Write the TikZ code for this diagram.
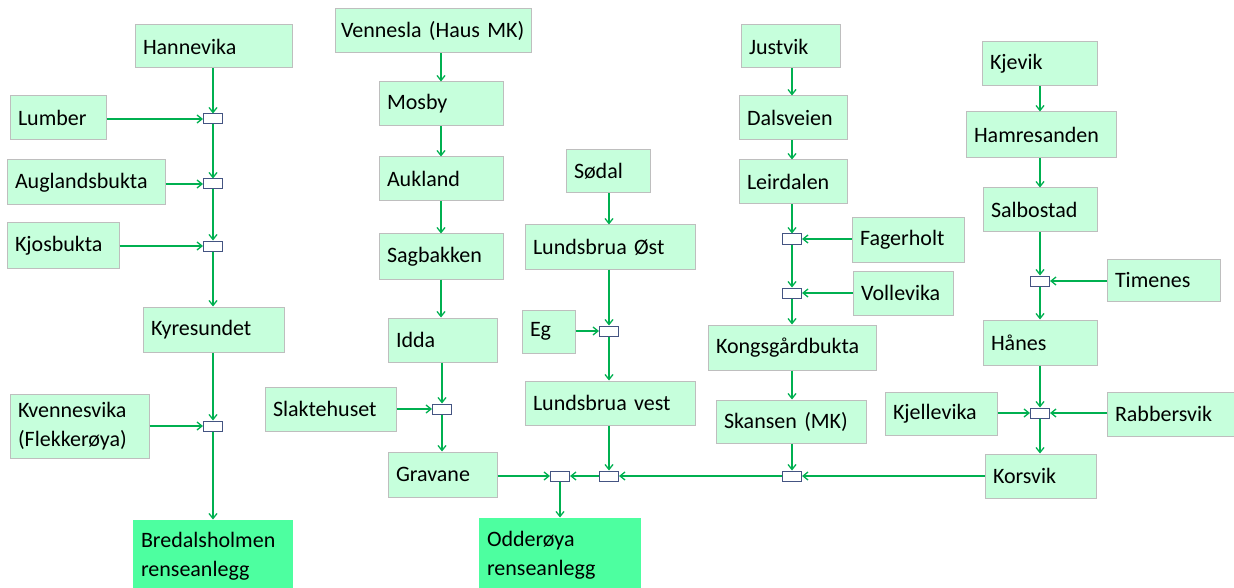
\documentclass[tikz,border=0pt]{standalone}
\usepackage{fontspec}
\setmainfont{Carlito}
\usetikzlibrary{arrows.meta}
\definecolor{boxfill}{RGB}{198,255,220}
\definecolor{boxline}{RGB}{190,190,190}
\definecolor{endfill}{RGB}{77,255,160}
\definecolor{pipe}{RGB}{0,176,80}
\definecolor{jline}{RGB}{68,84,130}
\tikzset{
  box/.style={draw=boxline, line width=1pt, fill=boxfill, rectangle, align=left, inner xsep=8pt, inner ysep=1pt, font=\fontsize{22}{29}\selectfont},
  endbox/.style={fill=endfill, draw=none},
  jn/.style={rectangle, draw=jline, line width=1pt, fill=white, minimum width=19pt, minimum height=10pt, inner sep=0pt},
  pp/.style={draw=pipe, line width=1.3pt, -{Straight Barb[length=5pt,width=8pt]}},
  pl/.style={draw=pipe, line width=1.3pt}
}
\newcommand\bx[7][]{%
  \pgfmathsetmacro\bw{#5-#3}\pgfmathsetmacro\bh{#6-#4}\pgfmathsetmacro\tw{#5-#3-16}%
  \node[box,minimum width=\bw pt,minimum height=\bh pt,text width=\tw pt,#1] (#2) at ({(#3+#5)/2},{(#4+#6)/2}) {#7};}
\begin{document}
\begin{tikzpicture}[x=1pt,y=-1pt]
\useasboundingbox (0,0) rectangle (1234,588);
% column 1
\bx{hannevika}{135}{25}{292}{68}{Hannevika}
\bx{lumber}{10}{96}{106}{140}{Lumber}
\bx{augl}{7}{160}{165}{205}{Auglandsbukta}
\bx{kjos}{7}{223}{119}{268}{Kjosbukta}
\bx{kyre}{143}{307}{284}{352}{Kyresundet}
\bx{kvenn}{10}{394}{149}{458}{Kvennesvika\\(Flekkerøya)}
\bx[endbox]{bredal}{133}{520}{293}{592}{Bredalsholmen\\renseanlegg}
\node[jn] (j1) at (213,119) {};
\node[jn] (j2) at (213,184) {};
\node[jn] (j3) at (213,246) {};
\node[jn] (j4) at (213,426) {};
% column 2
\bx[text width=184pt,inner xsep=6pt]{venn}{335}{9}{531}{53}{Vennesla (Haus MK)}
\bx{mosby}{379}{82}{503}{126}{Mosby}
\bx{aukland}{379}{157}{503}{201}{Aukland}
\bx{sagb}{379}{234}{503}{279}{Sagbakken}
\bx{idda}{388}{318}{497}{362}{Idda}
\bx{slakte}{265}{387}{396}{431}{Slaktehuset}
\bx{gravane}{388}{452}{497}{497}{Gravane}
\bx[endbox]{odder}{479}{518}{641}{592}{Odderøya\\renseanlegg}
\node[jn] (j5) at (442,409) {};
\node[jn] (j6) at (560,476) {};
% column 3
\bx{sodal}{566}{150}{650}{193}{Sødal}
\bx{lost}{525}{225}{695}{269}{Lundsbrua Øst}
\bx{eg}{522}{310}{575}{353}{Eg}
\bx{lvest}{525}{381}{695}{425}{Lundsbrua vest}
\node[jn] (j7) at (609,331) {};
\node[jn] (j8) at (609,476) {};
% column 4
\bx{justvik}{741}{25}{840}{68}{Justvik}
\bx{dals}{739}{96}{847}{140}{Dalsveien}
\bx{leir}{739}{160}{847}{204}{Leirdalen}
\bx{fager}{852}{218}{964}{262}{Fagerholt}
\bx{volle}{853}{271}{953}{315}{Vollevika}
\bx{kongs}{708}{325}{876}{370}{Kongsgårdbukta}
\bx{skansen}{716}{400}{866}{443}{Skansen (MK)}
\node[jn] (j9) at (792,239) {};
\node[jn] (j10) at (792,293) {};
\node[jn] (j11) at (792,476) {};
% column 5
\bx{kjevik}{982}{42}{1097}{86}{Kjevik}
\bx{hamre}{966}{112}{1116}{158}{Hamresanden}
\bx{salbo}{983}{188}{1097}{232}{Salbostad}
\bx{timenes}{1107}{259}{1220}{301}{Timenes}
\bx{hanes}{983}{320}{1097}{365}{Hånes}
\bx{kjelle}{885}{392}{997}{435}{Kjellevika}
\bx{rabb}{1107}{392}{1234}{436}{Rabbersvik}
\bx{korsvik}{985}{454}{1096}{498}{Korsvik}
\node[jn] (j12) at (1040,281) {};
\node[jn] (j13) at (1040,413) {};
% connectors column 1
\draw[pp] (j1 |- hannevika.south) -- (j1.north);
\draw[pp] (lumber.east |- j1) -- (j1.west);
\draw[pp] (j1.south) -- (j2.north);
\draw[pp] (augl.east |- j2) -- (j2.west);
\draw[pp] (j2.south) -- (j3.north);
\draw[pp] (kjos.east |- j3) -- (j3.west);
\draw[pp] (j3.south) -- (j3 |- kyre.north);
\draw[pp] (j4 |- kyre.south) -- (j4.north);
\draw[pp] (kvenn.east |- j4) -- (j4.west);
\draw[pp] (j4.south) -- (j4 |- bredal.north);
% column 2
\draw[pp] (mosby.north |- venn.south) -- (mosby.north);
\draw[pp] (mosby.south) -- (aukland.north);
\draw[pp] (aukland.south) -- (sagb.north);
\draw[pp] (sagb.south) -- (sagb.south |- idda.north);
\draw[pp] (j5 |- idda.south) -- (j5.north);
\draw[pp] (slakte.east |- j5) -- (j5.west);
\draw[pp] (j5.south) -- (j5 |- gravane.north);
\draw[pp] (gravane.east |- j6) -- (j6.west);
\draw[pp] (j6.south) -- (j6 |- odder.north);
% column 3
\draw[pp] (j7 |- sodal.south) -- (j7 |- lost.north);
\draw[pp] (j7 |- lost.south) -- (j7.north);
\draw[pp] (eg.east |- j7) -- (j7.west);
\draw[pp] (j7.south) -- (j7 |- lvest.north);
\draw[pp] (j8 |- lvest.south) -- (j8.north);
\draw[pp] (j8.west) -- (j6.east);
% column 4
\draw[pp] (j9 |- justvik.south) -- (j9 |- dals.north);
\draw[pp] (j9 |- dals.south) -- (j9 |- leir.north);
\draw[pp] (j9 |- leir.south) -- (j9.north);
\draw[pp] (fager.west |- j9) -- (j9.east);
\draw[pp] (j9.south) -- (j10.north);
\draw[pp] (volle.west |- j10) -- (j10.east);
\draw[pp] (j10.south) -- (j10 |- kongs.north);
\draw[pp] (j10 |- kongs.south) -- (j10 |- skansen.north);
\draw[pp] (j11 |- skansen.south) -- (j11.north);
\draw[pp] (j11.west) -- (j8.east);
% column 5
\draw[pp] (j12 |- kjevik.south) -- (j12 |- hamre.north);
\draw[pp] (j12 |- hamre.south) -- (j12 |- salbo.north);
\draw[pp] (j12 |- salbo.south) -- (j12.north);
\draw[pp] (timenes.west |- j12) -- (j12.east);
\draw[pp] (j12.south) -- (j12 |- hanes.north);
\draw[pp] (j13 |- hanes.south) -- (j13.north);
\draw[pp] (kjelle.east |- j13) -- (j13.west);
\draw[pp] (rabb.west |- j13) -- (j13.east);
\draw[pp] (j13.south) -- (j13 |- korsvik.north);
\draw[pp] (korsvik.west |- j11) -- (j11.east);
\end{tikzpicture}
\end{document}
